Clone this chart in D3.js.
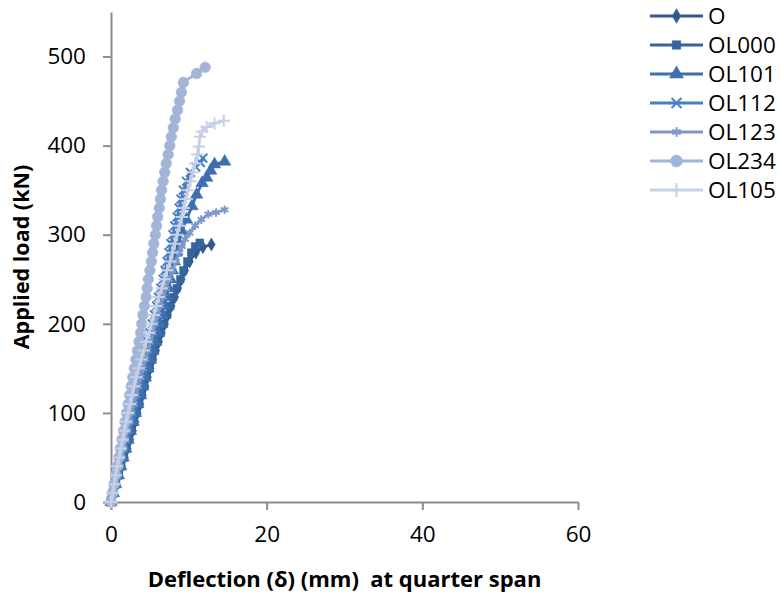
<!DOCTYPE html>
<html>
<head>
<meta charset="utf-8">
<script src="https://cdn.jsdelivr.net/npm/d3@7"></script>
<style>
  html, body { margin: 0; padding: 0; background: #fff; }
  svg { display: block; font-family: "Open Sans", Carlito, Calibri, sans-serif; }
</style>
</head>
<body>
<svg id="chart" width="781" height="597"></svg>
<script>
// ---- Data (deflection mm at quarter span, applied load kN) ----
const seriesNames = ["O", "OL000", "OL101", "OL112", "OL123", "OL234", "OL105"];

const O_defl = [0,0.35,0.7,1.05,1.4,1.75,2.1,2.45,2.8,3.1,3.4,3.75,4.05,4.4,4.7,5.05,5.4,5.75,6.15,6.5,6.9,7.3,7.75,8.2,8.6,9.05,9.5,10.1,10.9,11.8,12.9];
const O_load = [0,10,20,30,40,50,60,70,80,90,100,110,120,130,140,150,160,170,180,190,200,210,220,230,240,250,260,270,280,286,289];

const OL000_defl = [0,0.3,0.65,1.0,1.3,1.65,2.0,2.3,2.65,2.95,3.3,3.6,3.95,4.25,4.6,4.95,5.3,5.65,6.0,6.4,6.8,7.2,7.6,8.0,8.45,8.9,9.3,9.8,10.3,10.8,11.4];
const OL000_load = [0,10,20,30,40,50,60,70,80,90,100,110,120,130,140,150,160,170,180,190,200,210,220,230,240,250,260,270,280,287,291];

const OL101_defl = [0,0.3,0.6,0.95,1.25,1.55,1.9,2.2,2.5,2.85,3.15,3.45,3.8,4.1,4.4,4.75,5.05,5.35,5.65,5.95,6.25,6.55,6.85,7.1,7.4,7.65,7.9,8.15,8.4,8.7,9.1,9.7,10.4,11.0,11.7,12.3,12.8,13.3,14.6];
const OL101_load = [0,10,20,30,40,50,60,70,80,90,100,110,120,130,140,150,160,170,180,190,200,210,220,230,240,250,260,270,280,291,304,317,332,345,358,364,372,379,382];

const OL112_defl = [0,0.25,0.5,0.75,1.0,1.25,1.5,1.75,2.0,2.25,2.5,2.75,3.0,3.25,3.55,3.85,4.1,4.4,4.7,5.0,5.3,5.6,5.85,6.1,6.4,6.7,6.95,7.2,7.45,7.7,7.95,8.2,8.5,8.75,9.0,9.3,9.7,10.2,10.9,11.5,11.8];
const OL112_load = [0,10,20,30,40,50,60,70,80,90,100,110,120,130,140,150,160,170,180,190,200,210,220,230,240,250,260,270,280,290,300,310,320,330,340,350,360,370,376,381,386];

const OL123_defl = [0,0.25,0.5,0.8,1.05,1.3,1.6,1.85,2.1,2.4,2.65,2.95,3.2,3.5,3.8,4.1,4.4,4.7,5.0,5.35,5.65,6.0,6.35,6.7,7.05,7.45,7.9,8.35,8.8,9.1,9.5,10.1,10.8,11.6,12.5,13.5,14.6];
const OL123_load = [0,10,20,30,40,50,60,70,80,90,100,110,120,130,140,150,160,170,180,190,200,210,220,230,240,250,260,270,280,287,295,302,310,317,323,325,328];

const OL234_defl = [0,0.2,0.4,0.6,0.8,1.0,1.2,1.4,1.6,1.8,2.0,2.2,2.4,2.6,2.8,3.0,3.2,3.4,3.6,3.8,3.95,4.1,4.3,4.5,4.65,4.8,5.0,5.2,5.35,5.5,5.7,5.85,6.0,6.2,6.35,6.5,6.7,6.9,7.1,7.35,7.55,7.75,8.0,8.25,8.55,8.8,9.05,9.3,11.0,12.1];
const OL234_load = [0,10,20,30,40,50,60,70,80,90,100,110,120,130,140,150,160,170,180,190,200,210,220,230,240,250,260,270,280,290,300,310,320,330,340,350,360,370,380,390,400,410,420,430,440,450,460,471,481,488];

const OL105_defl = [0,0.2,0.4,0.6,0.8,1.05,1.25,1.5,1.7,1.95,2.2,2.45,2.7,2.95,3.25,3.55,3.9,4.2,4.5,4.9,5.2,5.5,5.8,6.1,6.5,6.85,7.2,7.6,7.9,8.2,8.5,8.8,9.1,9.35,9.6,9.9,10.2,10.5,10.8,11.1,11.3,11.4,11.7,12.3,13.3,14.5];
const OL105_load = [0,10,20,30,40,50,60,70,80,90,100,110,120,130,140,150,160,170,180,190,200,210,220,230,240,250,260,270,280,290,300,310,320,330,340,350,360,370,380,390,399,410,416,421,425,428];

const xTicks = [0, 20, 40, 60];
const yTicks = [0, 100, 200, 300, 400, 500];
const xTitle = "Deflection (\u03b4) (mm)  at quarter span";
const yTitle = "Applied load (kN)";

// ---- Styling ----
const colors = ["#2f5a8e", "#37649d", "#3e6fae", "#4a7ec2", "#7d98c9", "#a2b4d8", "#c5d0e7"];
const symbols = [
  {type: d3.symbolDiamond, size: 50, fill: true},
  {type: d3.symbolSquare, size: 58, fill: true},
  {type: d3.symbolTriangle, size: 68, fill: true},
  {type: d3.symbolTimes, size: 52, fill: false},
  {type: d3.symbolAsterisk, size: 52, fill: false},
  {type: d3.symbolCircle, size: 90, fill: true},
  {type: d3.symbolPlus, size: 52, fill: false}
];

const series = [
  [O_defl, O_load], [OL000_defl, OL000_load], [OL101_defl, OL101_load],
  [OL112_defl, OL112_load], [OL123_defl, OL123_load], [OL234_defl, OL234_load],
  [OL105_defl, OL105_load]
].map(([dx, ly], i) => ({
  name: seriesNames[i],
  points: dx.map((d, j) => ({x: d, y: ly[j]}))
}));

const svg = d3.select("#chart");
const x = d3.scaleLinear().domain([0, 60]).range([111, 578]);
const y = d3.scaleLinear().domain([0, 550]).range([502, 12]);

const axisColor = "#8c8c8c";
const fontFam = "\"Open Sans\", Carlito, Calibri, sans-serif";

// Axes
const gx = svg.append("g").attr("transform", `translate(0,${y(0)})`)
  .call(d3.axisBottom(x).tickValues(xTicks).tickSize(8).tickPadding(16).tickSizeOuter(0));
const gy = svg.append("g").attr("transform", `translate(${x(0)},0)`)
  .call(d3.axisLeft(y).tickValues(yTicks).tickSize(8).tickPadding(17).tickSizeOuter(0));
[gx, gy].forEach(g => {
  g.select(".domain").attr("stroke", axisColor).attr("stroke-width", 2);
  g.selectAll(".tick line").attr("stroke", axisColor).attr("stroke-width", 2);
  g.selectAll(".tick text").attr("fill", "#000").attr("font-size", 22.5)
    .attr("font-family", fontFam);
});

// Lines + markers
const line = d3.line().x(d => x(d.x)).y(d => y(d.y));
series.forEach((s, i) => {
  const g = svg.append("g");
  g.append("path").datum(s.points)
    .attr("d", line).attr("fill", "none")
    .attr("stroke", colors[i]).attr("stroke-width", 2.75)
    .attr("stroke-linejoin", "round");
  const sym = d3.symbol().type(symbols[i].type).size(symbols[i].size);
  g.selectAll("path.m").data(s.points).join("path")
    .attr("class", "m")
    .attr("transform", d => `translate(${x(d.x)},${y(d.y)})`)
    .attr("d", sym)
    .attr("fill", symbols[i].fill ? colors[i] : "none")
    .attr("stroke", colors[i])
    .attr("stroke-width", symbols[i].fill ? 0.5 : 2);
});

// Axis titles
svg.append("text")
  .attr("x", (x(0) + x(60)) / 2).attr("y", 587)
  .attr("text-anchor", "middle").attr("font-size", 22).attr("font-weight", "bold")
  .style("white-space", "pre")
  .text(xTitle);
svg.append("text")
  .attr("transform", `translate(29,${(y(0) + y(550)) / 2}) rotate(-90)`)
  .attr("text-anchor", "middle").attr("font-size", 21.5).attr("font-weight", "bold")
  .text(yTitle);

// Legend
const leg = svg.append("g");
series.forEach((s, i) => {
  const ly = 16 + i * 29;
  leg.append("line").attr("x1", 650).attr("x2", 703).attr("y1", ly).attr("y2", ly)
    .attr("stroke", colors[i]).attr("stroke-width", 3);
  leg.append("path")
    .attr("transform", `translate(676.5,${ly})`)
    .attr("d", d3.symbol().type(symbols[i].type).size(symbols[i].size * 1.25))
    .attr("fill", symbols[i].fill ? colors[i] : "none")
    .attr("stroke", colors[i]).attr("stroke-width", symbols[i].fill ? 0.5 : 2);
  leg.append("text").attr("x", 708).attr("y", ly).attr("dy", "0.36em")
    .attr("font-size", 22.5).attr("fill", "#000").text(s.name);
});
</script>
</body>
</html>
